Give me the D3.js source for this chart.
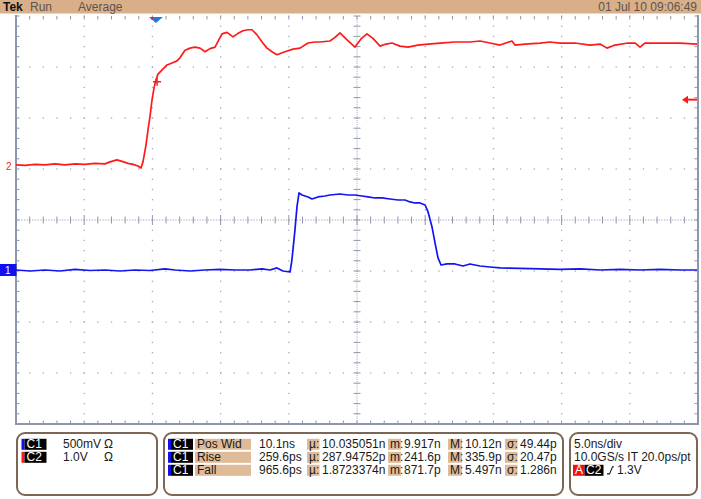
<!DOCTYPE html>
<html><head><meta charset="utf-8">
<script src="https://cdn.jsdelivr.net/npm/d3@7"></script>
<style>
html,body{margin:0;padding:0;background:#fff;}
svg{display:block;font-family:"Liberation Sans",Arial,Helvetica,sans-serif;}
</style></head><body>
<svg id="c" width="701" height="499"></svg>
<script>
// ---------- data ----------
const headerLeft = [["Tek", "bold"], ["Run", "normal"], ["Average", "normal"]];
const headerDate = "01 Jul 10 09:06:49";

// time axis (ns), 5 ns/div, 10 divisions
const timeDomain = [-25, 25];
const divDomain = [-4, 4];

// Channel 2 (red), volts
const ch2Time = [-25.0,-24.34,-23.61,-22.87,-22.14,-21.41,-20.67,-19.94,-19.21,-18.48,-18.11,-17.6,-17.23,-16.79,-16.42,-16.06,-15.84,-15.69,-15.47,-15.32,-15.18,-15.03,-14.88,-14.74,-14.59,-14.3,-13.93,-13.56,-13.2,-12.98,-12.61,-12.24,-11.88,-11.51,-11.14,-10.78,-10.41,-9.9,-9.53,-9.09,-8.72,-8.36,-7.99,-7.7,-7.33,-6.96,-6.6,-6.23,-5.87,-5.28,-4.69,-4.18,-3.59,-3.08,-2.71,-1.98,-1.61,-1.25,-0.73,-0.15,0.29,0.73,1.17,1.69,2.13,2.57,3.15,3.74,4.47,5.21,6.09,7.18,8.28,9.02,9.75,10.48,11.36,11.58,12.32,13.42,14.15,14.88,15.98,17.08,17.82,18.33,18.91,19.87,20.4,20.75,21.1,22.21,23.68,24.93];
const ch2Volts = [0.02,0.01,0.03,0.02,0.04,0.02,0.04,0.03,0.05,0.04,0.08,0.12,0.09,0.05,0.03,0.0,-0.04,0.08,0.41,0.71,0.96,1.29,1.53,1.69,1.8,1.88,1.98,2.02,2.06,2.12,2.27,2.31,2.33,2.31,2.24,2.3,2.33,2.59,2.62,2.53,2.6,2.65,2.67,2.67,2.57,2.43,2.31,2.24,2.18,2.24,2.29,2.31,2.41,2.43,2.43,2.45,2.52,2.61,2.47,2.33,2.49,2.59,2.5,2.35,2.39,2.41,2.35,2.33,2.37,2.39,2.41,2.43,2.43,2.45,2.41,2.37,2.45,2.37,2.39,2.41,2.43,2.41,2.41,2.37,2.39,2.31,2.37,2.41,2.41,2.33,2.41,2.41,2.41,2.39];

// Channel 1 (blue), volts
const ch1Time = [-25.0,-23.97,-22.87,-21.77,-20.67,-19.57,-18.48,-17.38,-16.28,-15.18,-14.08,-13.34,-12.24,-11.14,-10.04,-8.94,-7.84,-6.96,-6.38,-5.87,-5.43,-4.91,-4.77,-4.55,-4.4,-4.25,-4.03,-3.81,-3.59,-3.3,-2.86,-2.35,-1.98,-1.25,-0.66,-0.15,0.37,0.81,1.32,1.83,2.42,3.01,3.52,3.89,4.25,4.62,4.99,5.21,5.5,5.72,5.94,6.16,6.6,7.18,7.77,8.28,9.02,9.75,10.48,11.95,13.42,14.88,16.35,17.82,19.28,20.75,22.21,23.68,24.93];
const ch1Volts = [0.0,-0.01,0.0,-0.01,0.005,-0.005,0.0,-0.01,0.0,-0.005,0.01,0.0,-0.01,0.0,0.005,0.0,0.0,0.01,0.0,0.02,-0.01,-0.02,0.1,0.39,0.62,0.755,0.735,0.725,0.716,0.696,0.716,0.725,0.735,0.745,0.735,0.735,0.725,0.716,0.706,0.706,0.696,0.686,0.686,0.667,0.657,0.657,0.637,0.569,0.422,0.265,0.118,0.049,0.059,0.059,0.039,0.059,0.039,0.029,0.02,0.015,0.01,0.005,0.01,0.0,0.005,0.0,0.005,0.0,0.0];

const chVoltsPerDiv = { ch1: 0.5, ch2: 1.0 };
const chPositionDiv = { ch1: -0.98, ch2: 1.06 };
const triggerTime = -14.74;
const triggerLevel = 1.3;
const cursorTime = -14.66, cursorVolts = 1.65;

const chanLabels = [["C1", "500mV", "\u03A9"], ["C2", "1.0V", "\u03A9"]];
const measNames = ["Pos Wid", "Rise", "Fall"];
const measValue = ["10.1ns", "259.6ps", "965.6ps"];
const measMean = ["10.035051n", "287.94752p", "1.8723374n"];
const measMin = ["9.917n", "241.6p", "871.7p"];
const measMax = ["10.12n", "335.9p", "5.497n"];
const measStd = ["49.44p", "20.47p", "1.286n"];
const timebaseLines = ["5.0ns/div", "10.0GS/s IT 20.0ps/pt"];
const trigLabel = "1.3V";

// ---------- drawing ----------
const svg = d3.select("#c");
const W = 701, H = 499;
const P = { l: 16, r: 698, t: 16, b: 424 };
const x = d3.scaleLinear().domain(timeDomain).range([P.l, P.r]);
const yDiv = d3.scaleLinear().domain(divDomain).range([P.b, P.t]);
const yCh = ch => v => yDiv(chPositionDiv[ch] + v / chVoltsPerDiv[ch]);
const y1 = yCh("ch1"), y2 = yCh("ch2");

const TAN = "#d9af89", TANL = "#dfbb97", GRID = "#a4a9c0", FRAME = "#8f95ad";
const RED = "#ff1a1a", BLUE = "#1414f0";

svg.append("rect").attr("width", W).attr("height", H).attr("fill", "#fff");

// header
svg.append("rect").attr("x", 0).attr("y", 0).attr("width", W).attr("height", 13.5).attr("fill", TAN);
const hx = [3, 30, 78];
headerLeft.forEach((h, i) => {
  svg.append("text").attr("x", hx[i]).attr("y", 11).attr("font-size", 12)
    .attr("font-weight", h[1]).attr("fill", i === 0 ? "#111" : "#5e544a").text(h[0]);
});
svg.append("text").attr("x", 697).attr("y", 11).attr("font-size", 12).attr("text-anchor", "end")
  .attr("fill", "#5e544a").text(headerDate);

// grid
const g = svg.append("g");
const majorT = d3.range(timeDomain[0], timeDomain[1] + 0.01, 5);
const minorT = d3.range(timeDomain[0], timeDomain[1] + 0.01, 1);
const majorD = d3.range(divDomain[0], divDomain[1] + 0.01, 1);
const minorD = d3.range(divDomain[0], divDomain[1] + 0.001, 0.2);

majorT.filter(t => t > timeDomain[0] && t < timeDomain[1] && t !== 0).forEach(t => {
  minorD.forEach(d => g.append("rect").attr("x", x(t) - 0.6).attr("y", yDiv(d) - 0.6)
    .attr("width", 1.3).attr("height", 1.3).attr("fill", GRID));
});
majorD.filter(d => d > divDomain[0] && d < divDomain[1] && d !== 0).forEach(d => {
  minorT.forEach(t => g.append("rect").attr("x", x(t) - 0.6).attr("y", yDiv(d) - 0.6)
    .attr("width", 1.3).attr("height", 1.3).attr("fill", GRID));
});
// center crosshair
g.append("line").attr("x1", P.l).attr("x2", P.r).attr("y1", yDiv(0)).attr("y2", yDiv(0))
  .attr("stroke", GRID).attr("stroke-width", 1).attr("stroke-dasharray", "1.3,1.4");
g.append("line").attr("x1", x(0)).attr("x2", x(0)).attr("y1", P.t).attr("y2", P.b)
  .attr("stroke", GRID).attr("stroke-width", 1).attr("stroke-dasharray", "1,1.04");
minorT.forEach(t => {
  const h = (t % 5 === 0) ? 5 : 3.5;
  g.append("line").attr("x1", x(t)).attr("x2", x(t)).attr("y1", yDiv(0) - h).attr("y2", yDiv(0) + h)
    .attr("stroke", FRAME).attr("stroke-width", 1);
  g.append("line").attr("x1", x(t)).attr("x2", x(t)).attr("y1", P.t).attr("y2", P.t + 3.5)
    .attr("stroke", FRAME).attr("stroke-width", 1);
  g.append("line").attr("x1", x(t)).attr("x2", x(t)).attr("y1", P.b).attr("y2", P.b - 3.5)
    .attr("stroke", FRAME).attr("stroke-width", 1);
});
minorD.forEach(d => {
  g.append("line").attr("x1", x(0) - 3.5).attr("x2", x(0) + 3.5).attr("y1", yDiv(d)).attr("y2", yDiv(d))
    .attr("stroke", FRAME).attr("stroke-width", 1);
  g.append("line").attr("x1", P.l).attr("x2", P.l + 3.5).attr("y1", yDiv(d)).attr("y2", yDiv(d))
    .attr("stroke", FRAME).attr("stroke-width", 1);
  g.append("line").attr("x1", P.r).attr("x2", P.r - 3.5).attr("y1", yDiv(d)).attr("y2", yDiv(d))
    .attr("stroke", FRAME).attr("stroke-width", 1);
});
// frame
g.append("path").attr("d", `M${P.l},${P.t - 1}V${P.b}H${P.r}V${P.t - 1}`)
  .attr("fill", "none").attr("stroke", FRAME).attr("stroke-width", 2);

// traces
const line2 = d3.line().x((d, i) => x(ch2Time[i])).y(d => y2(d));
const line1 = d3.line().x((d, i) => x(ch1Time[i])).y(d => y1(d));
svg.append("path").datum(ch2Volts).attr("d", line2).attr("fill", "none")
  .attr("stroke", RED).attr("stroke-width", 1.7).attr("stroke-linejoin", "round");
svg.append("path").datum(ch1Volts).attr("d", line1).attr("fill", "none")
  .attr("stroke", BLUE).attr("stroke-width", 1.7).attr("stroke-linejoin", "round");

// cursor cross on red trace
const cx = x(cursorTime), cy = y2(cursorVolts);
svg.append("path").attr("d", `M${cx - 4},${cy}H${cx + 4}M${cx},${cy - 4}V${cy + 4}`)
  .attr("stroke", RED).attr("stroke-width", 1.5);

// trigger position marker (top)
const tx = x(triggerTime);
svg.append("path").attr("d", `M${tx - 7},${P.t + 1}H${tx + 7}L${tx},${P.t + 7}Z`).attr("fill", "#1e78e6");
svg.append("rect").attr("x", tx - 5).attr("y", P.t + 1).attr("width", 2).attr("height", 2.5).attr("fill", RED);

// trigger level arrow (right)
const ty = y2(triggerLevel);
svg.append("path").attr("d", `M${P.r - 1},${ty}H${P.r - 12}`).attr("stroke", RED).attr("stroke-width", 2);
svg.append("path").attr("d", `M${P.r - 16},${ty}L${P.r - 10},${ty - 4}V${ty + 4}Z`).attr("fill", RED);

// channel ground markers
svg.append("text").attr("x", 6).attr("y", y2(0) + 4).attr("font-size", 10).attr("fill", RED).text("2");
svg.append("rect").attr("x", 0).attr("y", y1(0) - 6).attr("width", 16.5).attr("height", 12).attr("fill", "#1010ee");
svg.append("text").attr("x", 5).attr("y", y1(0) + 4).attr("font-size", 10).attr("fill", "#fff").text("1");

// ---------- bottom panels ----------
const BORDER = "#7b6753";
const panels = [[16, 158], [163, 564], [569, 698]];
panels.forEach(p => svg.append("rect").attr("x", p[0] + 1).attr("y", 433).attr("width", p[1] - p[0] - 2)
  .attr("height", 62).attr("rx", 8).attr("fill", "#fff").attr("stroke", BORDER).attr("stroke-width", 2));

const rowTop = [438.8, 451.8, 464.8], rowBase = [448.4, 461.4, 474.4];
const FS = 12, TXT = "#1a1a1a";
function chanTag(xb, row, name, barCol) {
  svg.append("rect").attr("x", xb).attr("y", rowTop[row]).attr("width", 3).attr("height", 11).attr("fill", barCol);
  svg.append("rect").attr("x", xb + 3).attr("y", rowTop[row]).attr("width", 22).attr("height", 11).attr("fill", "#000");
  svg.append("text").attr("x", xb + 5).attr("y", rowBase[row]).attr("font-size", FS).attr("fill", "#fff").text(name);
}
function txt(xp, row, s, col) {
  svg.append("text").attr("x", xp).attr("y", rowBase[row]).attr("font-size", FS).attr("fill", col || TXT).text(s);
}
function tanBox(xp, w, row, s) {
  svg.append("rect").attr("x", xp).attr("y", rowTop[row]).attr("width", w).attr("height", 11).attr("fill", TANL);
  txt(xp + 2, row, s);
}
// panel 1
chanLabels.forEach((c, i) => {
  chanTag(21.5, i, c[0], i === 0 ? "#1010ee" : RED);
  txt(63, i, c[1]);
  txt(104, i, c[2]);
});
// panel 2
measNames.forEach((n, i) => {
  chanTag(168, i, "C1", "#1010ee");
  tanBox(195, 56, i, n);
  txt(259, i, measValue[i]);
  tanBox(307, 12.5, i, "\u00B5:");
  txt(322, i, measMean[i]);
  tanBox(388, 13, i, "m:");
  txt(404, i, measMin[i]);
  tanBox(448, 14, i, "M:");
  txt(465, i, measMax[i]);
  tanBox(505, 12.5, i, "\u03C3:");
  txt(520, i, measStd[i]);
});
// panel 3
timebaseLines.forEach((s, i) => txt(574, i, s));
svg.append("rect").attr("x", 573).attr("y", rowTop[2]).attr("width", 11.5).attr("height", 11).attr("fill", "#f01010");
svg.append("text").attr("x", 575).attr("y", rowBase[2]).attr("font-size", FS).attr("fill", "#fff").text("A");
svg.append("rect").attr("x", 584.5).attr("y", rowTop[2]).attr("width", 19).attr("height", 11).attr("fill", "#000");
svg.append("text").attr("x", 586).attr("y", rowBase[2]).attr("font-size", FS).attr("fill", "#fff").text("C2");
svg.append("path").attr("d", `M607,${rowBase[2] - 0.5}H609.5L612.5,${rowTop[2] + 2}H614`)
  .attr("fill", "none").attr("stroke", TXT).attr("stroke-width", 1.1);
txt(617, 2, trigLabel);
</script>
</body></html>
